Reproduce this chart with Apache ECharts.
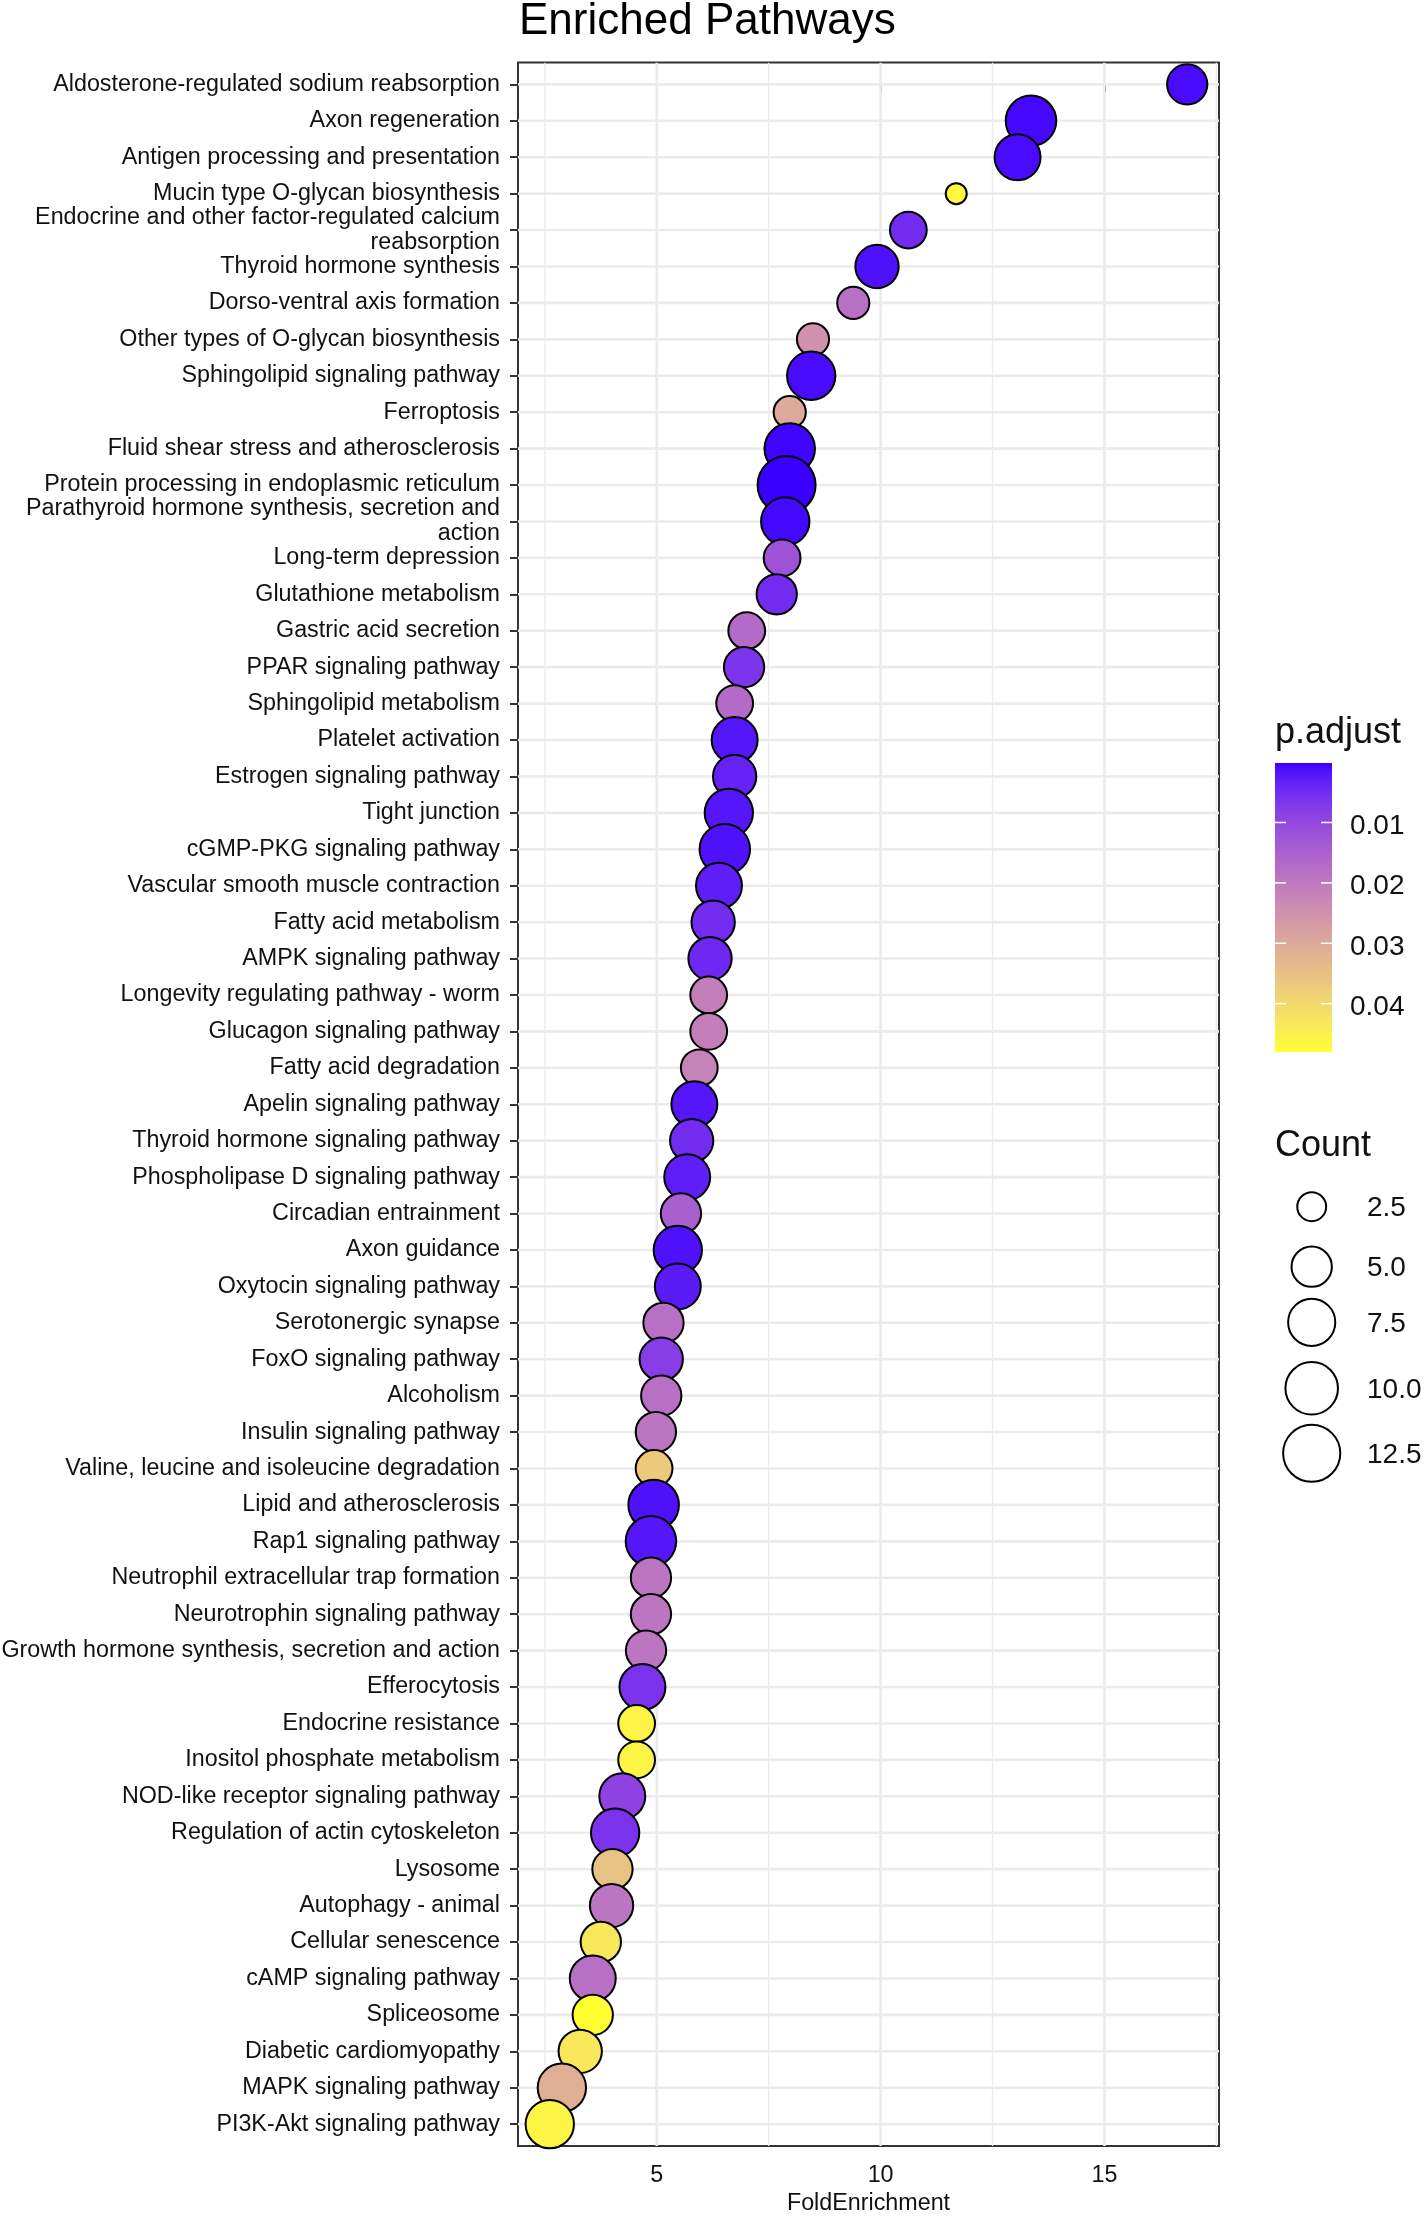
<!DOCTYPE html>
<html>
<head>
<meta charset="utf-8">
<script src="https://cdn.jsdelivr.net/npm/echarts@6/dist/echarts.min.js"></script>
<style>
html,body{margin:0;padding:0;background:#fff;}
#chart{width:1425px;height:2217px;}
</style>
</head>
<body>
<div id="chart"></div>
<script>
// ---------------- data ----------------
const categories = [
  'Aldosterone-regulated sodium reabsorption',
  'Axon regeneration',
  'Antigen processing and presentation',
  'Mucin type O-glycan biosynthesis',
  'Endocrine and other factor-regulated calcium\nreabsorption',
  'Thyroid hormone synthesis',
  'Dorso-ventral axis formation',
  'Other types of O-glycan biosynthesis',
  'Sphingolipid signaling pathway',
  'Ferroptosis',
  'Fluid shear stress and atherosclerosis',
  'Protein processing in endoplasmic reticulum',
  'Parathyroid hormone synthesis, secretion and\naction',
  'Long-term depression',
  'Glutathione metabolism',
  'Gastric acid secretion',
  'PPAR signaling pathway',
  'Sphingolipid metabolism',
  'Platelet activation',
  'Estrogen signaling pathway',
  'Tight junction',
  'cGMP-PKG signaling pathway',
  'Vascular smooth muscle contraction',
  'Fatty acid metabolism',
  'AMPK signaling pathway',
  'Longevity regulating pathway - worm',
  'Glucagon signaling pathway',
  'Fatty acid degradation',
  'Apelin signaling pathway',
  'Thyroid hormone signaling pathway',
  'Phospholipase D signaling pathway',
  'Circadian entrainment',
  'Axon guidance',
  'Oxytocin signaling pathway',
  'Serotonergic synapse',
  'FoxO signaling pathway',
  'Alcoholism',
  'Insulin signaling pathway',
  'Valine, leucine and isoleucine degradation',
  'Lipid and atherosclerosis',
  'Rap1 signaling pathway',
  'Neutrophil extracellular trap formation',
  'Neurotrophin signaling pathway',
  'Growth hormone synthesis, secretion and action',
  'Efferocytosis',
  'Endocrine resistance',
  'Inositol phosphate metabolism',
  'NOD-like receptor signaling pathway',
  'Regulation of actin cytoskeleton',
  'Lysosome',
  'Autophagy - animal',
  'Cellular senescence',
  'cAMP signaling pathway',
  'Spliceosome',
  'Diabetic cardiomyopathy',
  'MAPK signaling pathway',
  'PI3K-Akt signaling pathway'
];

const foldEnrichment = [
  16.85, 13.36, 13.06, 11.69, 10.62, 9.92, 9.39, 8.49, 8.45, 7.97,
  7.97, 7.90, 7.87, 7.80, 7.68, 7.01, 6.95, 6.74, 6.74, 6.74,
  6.61, 6.52, 6.39, 6.26, 6.19, 6.16, 6.16, 5.95, 5.84, 5.78,
  5.68, 5.54, 5.47, 5.47, 5.15, 5.10, 5.10, 4.98, 4.94, 4.93,
  4.87, 4.87, 4.87, 4.76, 4.68, 4.55, 4.55, 4.23, 4.07, 4.01,
  3.99, 3.75, 3.57, 3.57, 3.29, 2.88, 2.61
];

const geneCount = [
  5, 9, 7, 2, 4, 6, 3, 3, 8, 3,
  9, 13, 8, 4, 5, 4, 5, 4, 7, 6,
  8, 9, 7, 6, 6, 4, 4, 4, 7, 6,
  7, 5, 8, 7, 5, 6, 5, 5, 4, 9,
  9, 5, 5, 5, 7, 4, 4, 7, 8, 5,
  6, 5, 7, 5, 6, 8, 8
];

const pAdjust = [
  0.0010, 0.0008, 0.0010, 0.0470, 0.0050, 0.0015, 0.0180, 0.0250, 0.0010, 0.0300,
  0.0005, 0.00015, 0.0008, 0.0120, 0.0050, 0.0170, 0.0065, 0.0170, 0.0020, 0.0035,
  0.0020, 0.0015, 0.0030, 0.0050, 0.0045, 0.0210, 0.0210, 0.0220, 0.0020, 0.0050,
  0.0030, 0.0145, 0.0015, 0.0025, 0.0180, 0.0080, 0.0180, 0.0190, 0.0370, 0.0015,
  0.0020, 0.0190, 0.0190, 0.0190, 0.0060, 0.0460, 0.0460, 0.0090, 0.0060, 0.0350,
  0.0190, 0.0430, 0.0180, 0.0480, 0.0430, 0.0310, 0.0460
];

const xTickValues = [5, 10, 15];
const xMinorGrid = [2.5, 7.5, 12.5, 17.5];
const pTickValues = [0.01, 0.02, 0.03, 0.04];
const pTickLabels = ['0.01', '0.02', '0.03', '0.04'];
const countBreaks = [2.5, 5.0, 7.5, 10.0, 12.5];
const countBreakLabels = ['2.5', '5.0', '7.5', '10.0', '12.5'];

// ---------------- helpers ----------------
const FONT = '"Liberation Sans", Arial, Helvetica, sans-serif';
const TEXT = '#111111';

function srgbToLinear(c){ c/=255; return c<=0.04045? c/12.92 : Math.pow((c+0.055)/1.055,2.4); }
function linearToSrgb(c){ c = c<=0.0031308? 12.92*c : 1.055*Math.pow(c,1/2.4)-0.055; return Math.max(0,Math.min(255,Math.round(c*255))); }
const Xn=0.95047, Yn=1.0, Zn=1.08883;
function fLab(t){ return t>0.008856? Math.cbrt(t) : (7.787*t + 16/116); }
function fInv(t){ return t*t*t>0.008856? t*t*t : (t-16/116)/7.787; }
function rgbToLab(rgb){
  const r=srgbToLinear(rgb[0]), g=srgbToLinear(rgb[1]), b=srgbToLinear(rgb[2]);
  const X=0.4124*r+0.3576*g+0.1805*b, Y=0.2126*r+0.7152*g+0.0722*b, Z=0.0193*r+0.1192*g+0.9505*b;
  const fx=fLab(X/Xn), fy=fLab(Y/Yn), fz=fLab(Z/Zn);
  return [116*fy-16, 500*(fx-fy), 200*(fy-fz)];
}
function labToRgb(lab){
  const fy=(lab[0]+16)/116, fx=fy+lab[1]/500, fz=fy-lab[2]/200;
  const X=Xn*fInv(fx), Y=Yn*fInv(fy), Z=Zn*fInv(fz);
  const r= 3.2406*X-1.5372*Y-0.4986*Z, g=-0.9689*X+1.8758*Y+0.0415*Z, b=0.0557*X-0.2040*Y+1.0570*Z;
  return 'rgb('+linearToSrgb(r)+','+linearToSrgb(g)+','+linearToSrgb(b)+')';
}
const lowLab = rgbToLab([58,0,255]), highLab = rgbToLab([255,255,50]);
const NSTOP = 40;
const colorStops = [];
for (let i=0;i<=NSTOP;i++){
  const t=i/NSTOP;
  colorStops.push(labToRgb([0,1,2].map(k=>lowLab[k]+(highLab[k]-lowLab[k])*t)));
}

const cMin = Math.min(...geneCount), cMax = Math.max(...geneCount);
function sizeOf(c){ const t=Math.max(0,(c-cMin)/(cMax-cMin)); return 21 + 37*Math.sqrt(t); }
const pMin = Math.min(...pAdjust), pMax = Math.max(...pAdjust);

const xMin = 1.90, xMax = 17.56;
const yIdx = categories.map((_,i)=>i);

// ---------------- chart ----------------
const chart = echarts.init(document.getElementById('chart'), null, {renderer:'canvas'});

const scatterData = categories.map((c,i)=>[foldEnrichment[i], i, geneCount[i], pAdjust[i]]);

function vLine(width){
  return function(params, api){
    const cs = params.coordSys;
    const x = api.coord([api.value(0), 0])[0];
    return {type:'line', silent:true, shape:{x1:x, y1:cs.y, x2:x, y2:cs.y+cs.height},
      style:{stroke:'#EBEBEB', lineWidth:width}};
  };
}
function hLine(width){
  return function(params, api){
    const cs = params.coordSys;
    const y = api.coord([xMin, api.value(1)])[1];
    return {type:'line', silent:true, shape:{x1:cs.x, y1:y, x2:cs.x+cs.width, y2:y},
      style:{stroke:'#EBEBEB', lineWidth:width}};
  };
}

// legend graphics
const legendX = 1275;
const cbTop = 763, cbH = 289, cbW = 57;
const graphics = [];
graphics.push({type:'text', x:519, y:22, style:{text:'Enriched Pathways', font:'44px '+FONT, fill:'#000', verticalAlign:'middle'}});
graphics.push({type:'text', x:legendX, y:733, style:{text:'p.adjust', font:'36px '+FONT, fill:TEXT, verticalAlign:'middle'}});
graphics.push({type:'rect', shape:{x:legendX, y:cbTop, width:cbW, height:cbH},
  style:{fill:{type:'linear', x:0, y:0, x2:0, y2:1, colorStops: colorStops.map((c,i)=>({offset:i/NSTOP, color:c}))}}});
pTickValues.forEach((p,i)=>{
  const y = cbTop + (p-pMin)/(pMax-pMin)*cbH;
  graphics.push({type:'line', shape:{x1:legendX, y1:y, x2:legendX+11, y2:y}, style:{stroke:'#fff', lineWidth:1.5}});
  graphics.push({type:'line', shape:{x1:legendX+cbW-11, y1:y, x2:legendX+cbW, y2:y}, style:{stroke:'#fff', lineWidth:1.5}});
  graphics.push({type:'text', x:1350, y:y+3.5, style:{text:pTickLabels[i], font:'28px '+FONT, fill:TEXT, verticalAlign:'middle'}});
});
graphics.push({type:'text', x:legendX, y:1146, style:{text:'Count', font:'36px '+FONT, fill:TEXT, verticalAlign:'middle'}});
const countKeyY = [1206.7, 1266.7, 1322.3, 1388.3, 1453.3];
countBreaks.forEach((c,i)=>{
  graphics.push({type:'circle', shape:{cx:1311.7, cy:countKeyY[i], r:sizeOf(c)/2}, style:{fill:'none', stroke:'#000', lineWidth:2}});
  graphics.push({type:'text', x:1367, y:countKeyY[i]+1.5, style:{text:countBreakLabels[i], font:'28px '+FONT, fill:TEXT, verticalAlign:'middle'}});
});

const option = {
  backgroundColor:'#ffffff',
  animation:false,
  textStyle:{fontFamily:FONT},
  grid:{left:518, top:62.5, width:701, height:2083.5, show:true, borderColor:'#333333', borderWidth:2,
        backgroundColor:'transparent', containLabel:false, outerBoundsMode:'none'},
  xAxis:{
    type:'value', min:xMin, max:xMax,
    axisLine:{show:false},
    axisTick:{show:true, length:8, lineStyle:{color:'#333', width:2}, customValues:xTickValues},
    axisLabel:{show:true, customValues:xTickValues, margin:18, fontSize:23.3, color:TEXT, fontFamily:FONT,
               formatter:(v)=>String(v)},
    splitLine:{show:false},
    name:'FoldEnrichment', nameLocation:'middle', nameGap:46,
    nameTextStyle:{fontSize:23.3, color:TEXT, fontFamily:FONT}
  },
  yAxis:{
    type:'value', min:-0.6, max:categories.length-1+0.6, inverse:true,
    axisLine:{show:false},
    axisTick:{show:true, length:8, lineStyle:{color:'#333', width:2}, customValues:yIdx},
    axisLabel:{show:true, customValues:yIdx, margin:18, fontSize:23.3, lineHeight:25, color:TEXT, fontFamily:FONT,
               align:'right', padding:[3,0,0,0], formatter:(v)=>categories[Math.round(v)]},
    splitLine:{show:false}
  },
  visualMap:{type:'continuous', show:false, seriesIndex:3, dimension:3, min:pMin, max:pMax,
             inRange:{color:colorStops}},
  series:[
    {type:'custom', z:1, silent:true, renderItem:vLine(1.3), data:xMinorGrid.map(v=>[v,0]), clip:true},
    {type:'custom', z:1, silent:true, renderItem:vLine(2.6), data:xTickValues.map(v=>[v,0]), clip:true},
    {type:'custom', z:1, silent:true, renderItem:hLine(2.6), data:yIdx.map(i=>[xMin,i]), clip:true},
    {type:'scatter', z:3, data:scatterData,
     symbol:'circle',
     symbolSize:(val)=>sizeOf(val[2]),
     itemStyle:{borderColor:'#000', borderWidth:2, opacity:1},
     emphasis:{disabled:true}}
  ],
  graphic:graphics
};
chart.setOption(option);
</script>
</body>
</html>
